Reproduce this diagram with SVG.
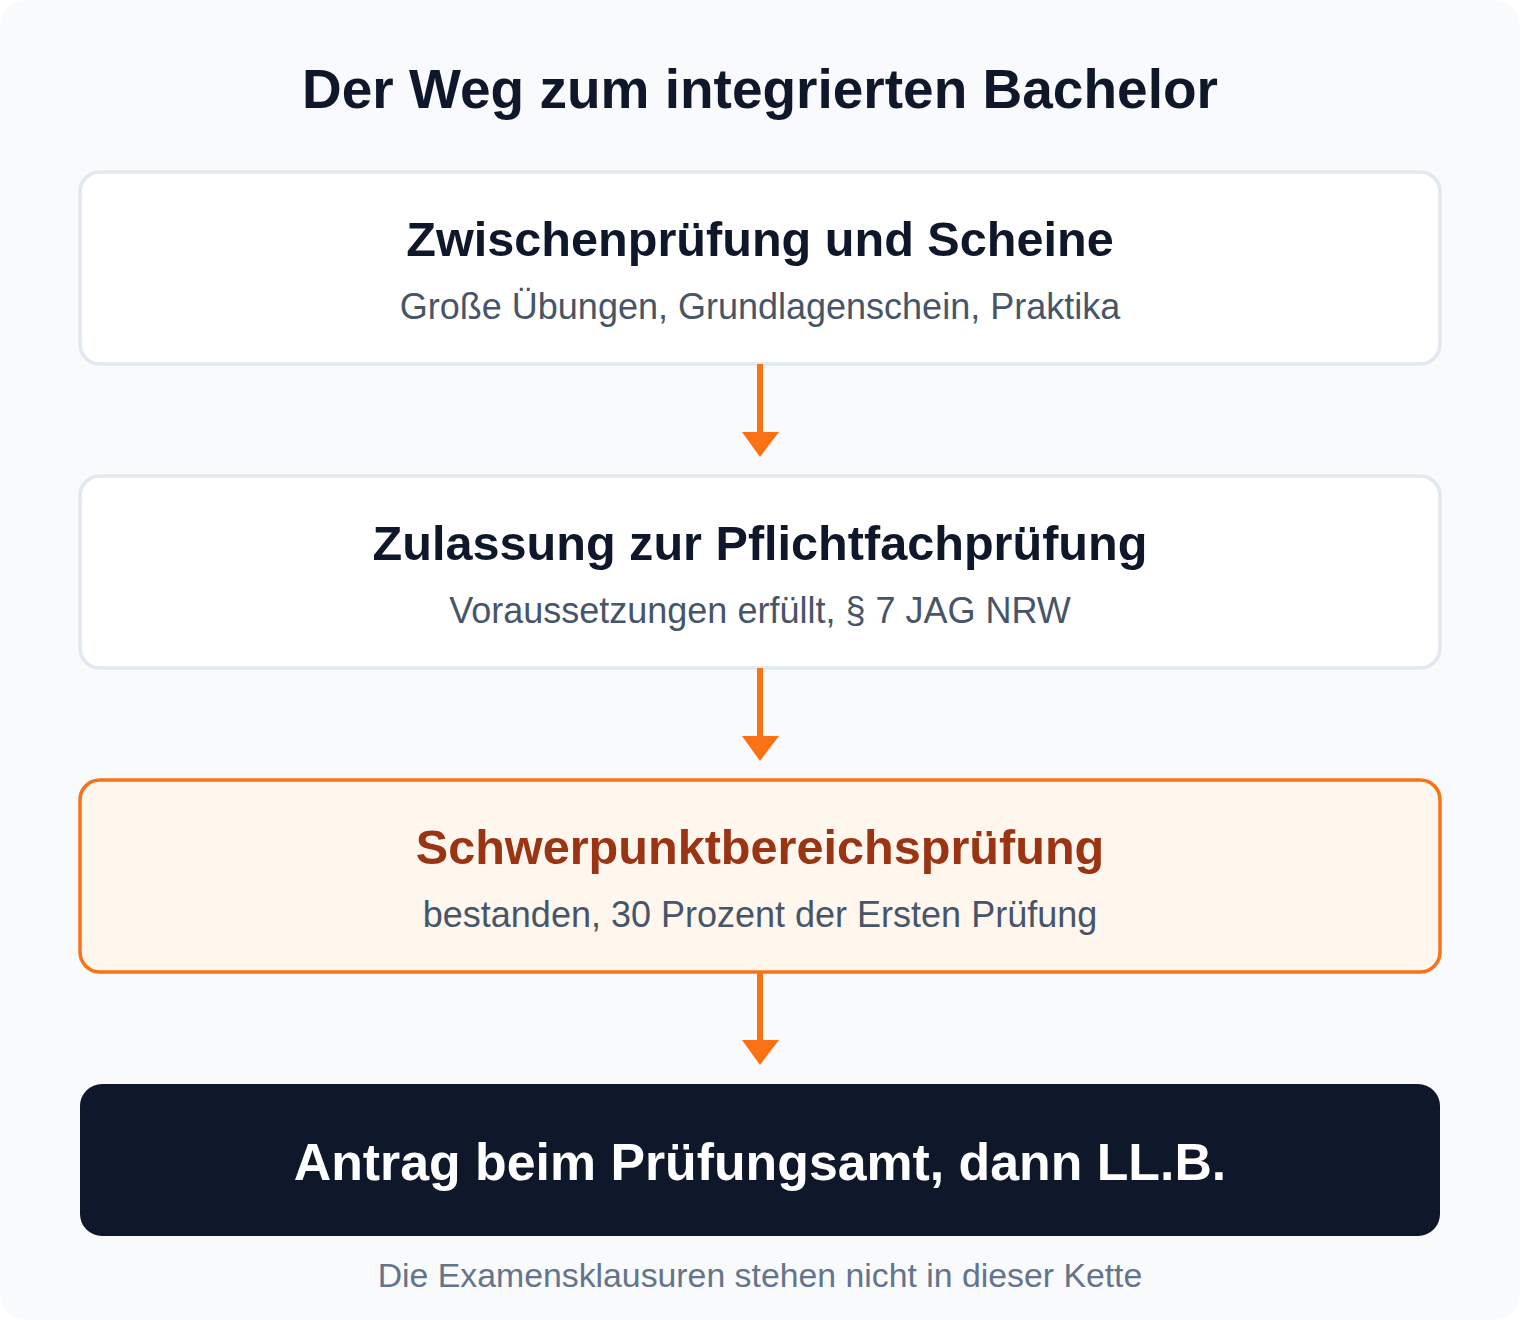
<svg xmlns="http://www.w3.org/2000/svg" width="1520" height="1320" viewBox="0 0 1520 1320">
<style>
.node{fill:#ffffff;stroke:#e2e8f0;stroke-width:3.5}
.hl{fill:#fff7ed;stroke:#f97316;stroke-width:3.5}
.final{fill:#0f172a}
.t{font-family:"Liberation Sans",Arial,sans-serif;text-anchor:middle}
.title{font-size:55px;font-weight:bold;fill:#0f172a}
.h{font-size:48.6px;font-weight:bold;fill:#0f172a}
.hh{font-size:48.6px;font-weight:bold;fill:#9a3412}
.s{font-size:36px;fill:#475569}
.fin{font-size:51.8px;font-weight:bold;fill:#ffffff}
.note{font-size:33.8px;fill:#64748b}
.conn line{stroke:#f97316;stroke-width:6}
.conn polygon{fill:#f97316}
</style>
<rect x="0" y="0" width="1520" height="1320" rx="26" fill="#f8fafc"/>
<text class="t title" x="760" y="108">Der Weg zum integrierten Bachelor</text>
<g id="n1">
<rect class="node" x="80" y="172" width="1360" height="192" rx="20"/>
<text class="t h" x="760" y="256">Zwischenprüfung und Scheine</text>
<text class="t s" x="760" y="319">Große Übungen, Grundlagenschein, Praktika</text>
</g>
<g id="n2">
<rect class="node" x="80" y="476" width="1360" height="192" rx="20"/>
<text class="t h" x="760" y="560">Zulassung zur Pflichtfachprüfung</text>
<text class="t s" x="760" y="623">Voraussetzungen erfüllt, § 7 JAG NRW</text>
</g>
<g id="n3">
<rect class="hl" x="80" y="780" width="1360" height="192" rx="20"/>
<text class="t hh" x="760" y="864">Schwerpunktbereichsprüfung</text>
<text class="t s" x="760" y="927">bestanden, 30 Prozent der Ersten Prüfung</text>
</g>
<g id="n4">
<rect class="final" x="80" y="1084" width="1360" height="152" rx="22"/>
<text class="t fin" x="760" y="1180">Antrag beim Prüfungsamt, dann LL.B.</text>
</g>
<g id="connectors" class="conn">
<line x1="760" y1="364" x2="760" y2="434"/>
<polygon points="742,432 779,432 760,457"/>
<line x1="760" y1="668" x2="760" y2="738"/>
<polygon points="742,736 779,736 760,761"/>
<line x1="760" y1="972" x2="760" y2="1042"/>
<polygon points="742,1040 779,1040 760,1065"/>
</g>
<text class="t note" x="760" y="1287">Die Examensklausuren stehen nicht in dieser Kette</text>
</svg>
